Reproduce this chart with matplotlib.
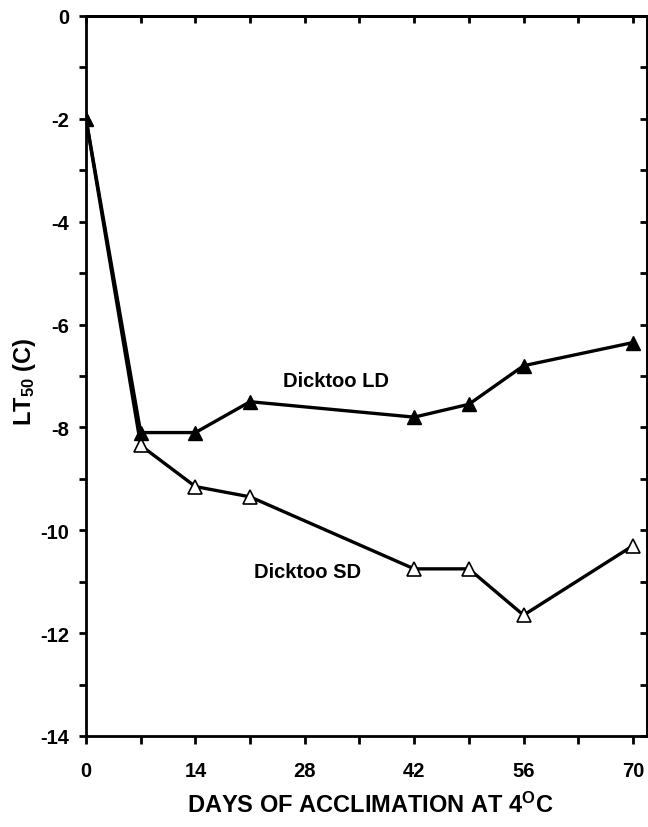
import numpy as np
import matplotlib
matplotlib.use('Agg')
import matplotlib.pyplot as plt
from matplotlib.ticker import MultipleLocator

plt.rcParams['font.family'] = ['Liberation Sans', 'DejaVu Sans']
plt.rcParams['font.weight'] = 'bold'
plt.rcParams['axes.unicode_minus'] = False  # 用短横线作负号
plt.rcParams['mathtext.fontset'] = 'custom'
plt.rcParams['mathtext.rm'] = 'Liberation Sans:bold'
plt.rcParams['mathtext.it'] = 'Liberation Sans:bold'
plt.rcParams['mathtext.bf'] = 'Liberation Sans:bold'

# 数据
days = [0, 7, 14, 21, 42, 49, 56, 70]
lt50_ld = [-2.0, -8.1, -8.1, -7.5, -7.8, -7.55, -6.8, -6.35]  # Dicktoo LD
lt50_sd = [-2.0, -8.35, -9.15, -9.35, -10.75, -10.75, -11.65, -10.3]  # Dicktoo SD
xticks = [0, 14, 28, 42, 56, 70]
yticks = [-14, -12, -10, -8, -6, -4, -2, 0]

fig = plt.figure(figsize=(6.48, 8.28), dpi=100)
ax = fig.add_axes([86/648, 1-737/828, (647-86)/648, (737-17)/828])

ax.plot(days, lt50_sd, color='black', lw=2.4, marker='^', ms=10,
        mfc='white', mec='black', mew=1.2, zorder=3)
ax.plot(days, lt50_ld, color='black', lw=2.4, marker='^', ms=10,
        mfc='black', mec='black', zorder=4)

ax.text(32.0, -7.09, 'Dicktoo LD', ha='center', va='center', fontsize=14.5, fontweight='bold')
ax.text(28.4, -10.8, 'Dicktoo SD', ha='center', va='center', fontsize=14.5, fontweight='bold')

ax.set_xlim(0, 71.8)
ax.set_ylim(-14, 0)
ax.set_xticks(xticks)
ax.set_yticks(yticks)
ax.xaxis.set_minor_locator(MultipleLocator(7))
ax.yaxis.set_minor_locator(MultipleLocator(1))
ax.tick_params(axis='x', which='both', direction='out', length=6, width=2,
               pad=12, labelsize=14.5)
ax.tick_params(axis='y', which='both', direction='out', length=5, width=2,
               pad=7, labelsize=14.5)
for lab in ax.get_xticklabels() + ax.get_yticklabels():
    lab.set_fontweight('bold')
for sp in ax.spines.values():
    sp.set_linewidth(2)

# 上、右轴：向内刻度，无标签
top = ax.secondary_xaxis('top')
top.set_xticks(np.arange(0, 71, 7))
top.tick_params(direction='in', length=5, width=2, labeltop=False)
top.spines['top'].set_linewidth(2)
right = ax.secondary_yaxis('right')
right.set_yticks(np.arange(-14, 1, 1))
right.tick_params(direction='in', length=5, width=2, labelright=False)
right.spines['right'].set_linewidth(2)

ax.set_ylabel(r'LT$_{50}$ (C)', fontsize=17, fontweight='bold')
ax.yaxis.label.set_va('center')
ax.yaxis.set_label_coords((25-86)/561, (737-382)/720)
ax.set_xlabel(r'DAYS OF ACCLIMATION AT 4$^{O}$C', fontsize=17, fontweight='bold')
ax.xaxis.label.set_va('center')
ax.xaxis.set_label_coords((370-86)/561, -(805-737)/720)

fig.savefig('out.png', dpi=100)
